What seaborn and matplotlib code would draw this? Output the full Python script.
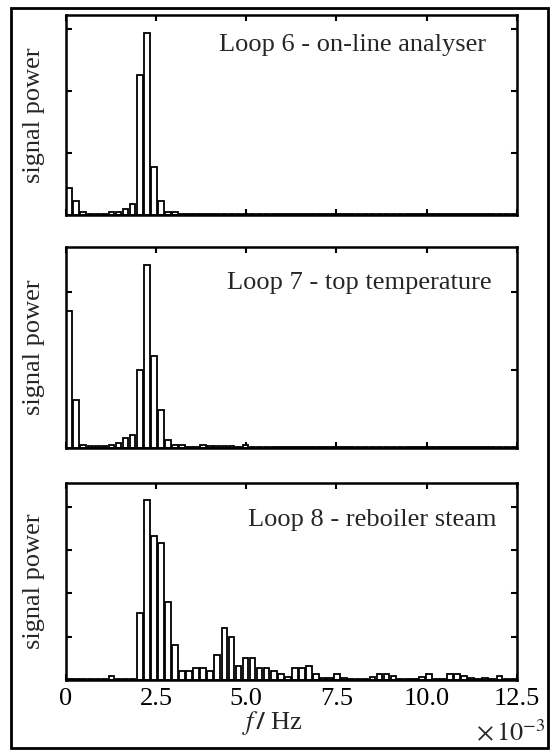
import numpy as np
import pandas as pd
import seaborn as sns
import matplotlib.pyplot as plt
from matplotlib.patches import Rectangle

# frequency bins (x 1e-3 Hz), 64 bins over 0 .. 12.5
freq = (np.arange(64) + 0.5) * 12.5 / 64

# signal power per bin (units = one y tick spacing)
loop6 = [0.43, 0.22, 0.04, 0.01, 0.01, 0.01, 0.05, 0.04, 0.09, 0.18,
         2.25, 2.93, 0.78, 0.22, 0.05, 0.05, 0.01, 0.01, 0.01, 0.01,
         0.01, 0.01, 0.01, 0.01, 0.01, 0.01, 0.01, 0.01, 0.01, 0.01,
         0.01, 0.01, 0.01, 0.01, 0.01, 0.01, 0.01, 0.01, 0.01, 0.01,
         0.01, 0.01, 0.01, 0.01, 0.01, 0.01, 0.01, 0.01, 0.01, 0.01,
         0.01, 0.01, 0.01, 0.01, 0.01, 0.01, 0.01, 0.01, 0.01, 0.01,
         0.01, 0.01, 0.01, 0.01]
loop7 = [1.76, 0.62, 0.04, 0.03, 0.03, 0.03, 0.04, 0.07, 0.13, 0.17,
         1.00, 2.34, 1.18, 0.49, 0.10, 0.04, 0.04, 0.01, 0.01, 0.04,
         0.02, 0.03, 0.03, 0.03, 0.01, 0.04, 0.01, 0.01, 0.01, 0.01,
         0.01, 0.01, 0.01, 0.01, 0.01, 0.01, 0.01, 0.01, 0.01, 0.01,
         0.01, 0.01, 0.01, 0.01, 0.01, 0.01, 0.01, 0.01, 0.01, 0.01,
         0.01, 0.01, 0.01, 0.01, 0.01, 0.01, 0.01, 0.01, 0.01, 0.01,
         0.01, 0.01, 0.01, 0.01]
loop8 = [0.02, 0.02, 0.02, 0.02, 0.02, 0.02, 0.10, 0.02, 0.02, 0.02,
         1.55, 4.16, 3.33, 3.16, 1.80, 0.82, 0.22, 0.22, 0.28, 0.28,
         0.22, 0.59, 1.20, 1.00, 0.33, 0.52, 0.52, 0.28, 0.28, 0.22,
         0.15, 0.08, 0.28, 0.28, 0.33, 0.14, 0.05, 0.05, 0.15, 0.04,
         0.03, 0.03, 0.03, 0.07, 0.14, 0.14, 0.10, 0.03, 0.03, 0.03,
         0.07, 0.13, 0.03, 0.03, 0.14, 0.14, 0.10, 0.05, 0.03, 0.04,
         0.03, 0.10, 0.02, 0.02]

titles = ['Loop 6 - on-line analyser', 'Loop 7 - top temperature',
          'Loop 8 - reboiler steam']
series = [loop6, loop7, loop8]
ytop = [3.22, 2.58, 4.56]
yticks = [[1, 2, 3], [1, 2], [1, 2, 3, 4]]
xticks = [0, 2.5, 5.0, 7.5, 10.0, 12.5]
xticklabels = ['0', '2.5', '5.0', '7.5', '10.0', '12.5']

sns.set_theme(style='white')
plt.rcParams['font.family'] = ['Liberation Serif', 'DejaVu Serif']
plt.rcParams['mathtext.fontset'] = 'stix'

fig = plt.figure(figsize=(5.58, 7.54), dpi=100)

# axes boxes in figure fractions
boxes = [[0.1177, 0.7149, 0.8088, 0.2653],
         [0.1177, 0.4058, 0.8088, 0.2670],
         [0.1177, 0.0981, 0.8088, 0.2617]]
title_pos = [(0.340, 0.82), (0.357, 0.788), (0.404, 0.78)]

for i, vals in enumerate(series):
    ax = fig.add_axes(boxes[i])
    df = pd.DataFrame({'f': freq, 'p': vals})
    sns.barplot(data=df, x='f', y='p', native_scale=True, width=0.8,
                color='white', edgecolor='black', linewidth=1.3,
                errorbar=None, ax=ax)
    ax.set_xlim(0, 12.5)
    ax.set_ylim(0, ytop[i])
    ax.set_xticks(xticks)
    ax.set_yticks(yticks[i])
    ax.set_yticklabels([])
    if i == 2:
        ax.set_xticklabels(xticklabels, fontsize=19)
    else:
        ax.set_xticklabels([])
    ax.tick_params(direction='in', length=4, width=1.5, top=True, right=True,
                   bottom=True, left=True, pad=6, colors='black')
    for sp in ax.spines.values():
        sp.set_visible(True)
        sp.set_linewidth(1.8)
        sp.set_color('black')
    ax.set_xlabel('')
    ax.set_ylabel('signal power', fontsize=19)
    ax.yaxis.set_label_coords(-0.046, 0.5)
    ax.text(title_pos[i][0], title_pos[i][1], titles[i], transform=ax.transAxes,
            fontsize=19, va='baseline', ha='left')

fig.text(272 / 558, 1 - 723 / 754, r'$f\,\mathbf{/}$ Hz', fontsize=19,
         ha='center', va='center')
fig.text(476 / 558, 1 - 741 / 754, r'$\times\,10^{-3}$', fontsize=19,
         ha='left', va='baseline')

fig.patches.append(Rectangle((0.0197, 0.008), 0.962, 0.981, transform=fig.transFigure,
                             fill=False, lw=2, ec='black'))

fig.savefig('out.png', dpi=100)
